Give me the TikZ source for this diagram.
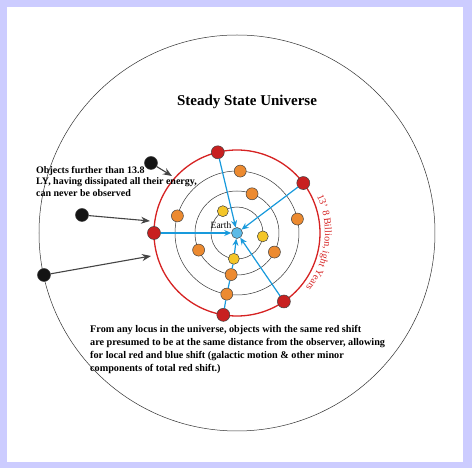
\documentclass[tikz,border=0pt]{standalone}
\usepackage{fontspec}
\setmainfont{Liberation Serif}
\usetikzlibrary{arrows.meta,positioning,decorations.text}
\definecolor{FrameLilac}{RGB}{204,204,255}
\definecolor{RingRed}{RGB}{214,34,34}
\definecolor{StarRed}{RGB}{200,32,32}
\definecolor{StarOrange}{RGB}{236,138,48}
\definecolor{StarYellow}{RGB}{244,198,40}
\definecolor{EarthBlue}{RGB}{92,186,230}
\definecolor{RayBlue}{RGB}{24,154,220}
\definecolor{ArrowGray}{RGB}{68,68,68}
\tikzset{
  body/.style={circle,draw=black!75,line width=0.5pt,inner sep=0pt},
  redstar/.style={body,fill=StarRed,minimum size=13pt},
  orangestar/.style={body,fill=StarOrange,minimum size=12pt},
  yellowstar/.style={body,fill=StarYellow,minimum size=11pt},
  lost/.style={body,fill=black!92,minimum size=13pt},
  ray/.style={RayBlue,line width=1.2pt},
  rayin/.style={ray,-{Stealth[length=7pt,width=6pt]}},
  lostarrow/.style={ArrowGray,line width=1.1pt,-{Stealth[length=9pt,width=7pt]}},
  ring/.style={black!80,line width=0.5pt}
}
\begin{document}
\begin{tikzpicture}[x=1pt,y=1pt,>=Latex]
  \useasboundingbox (-237,-235) rectangle (235,233);
  \fill[FrameLilac] (-237,-235) rectangle (235,233);
  \fill[white] (-230,-229) rectangle (226,226);

  % rings round the observer
  \draw[ring] (0,0) circle[radius=198];
  \foreach \r in {26,42,62} \draw[ring] (0,0) circle[radius=\r];
  \draw[RingRed,line width=1.3pt] (0,0) circle[radius=83];

  \node[font=\bfseries\fontsize{15}{17}\selectfont] (title) at (10,131) {Steady State Universe};

  \node[body,fill=EarthBlue,minimum size=11pt] (earth) at (0,0) {};
  \node[font=\fontsize{9.5}{10}\selectfont] (earthlabel) at (-16,8) {Earth};

  \node[yellowstar] (y1) at (123:26) {};
  \node[yellowstar] (y2) at (-7.5:26) {};
  \node[yellowstar] (y3) at (-97:26) {};
  \node[orangestar] (o1) at (69:42) {};
  \node[orangestar] (o2) at (204:42) {};
  \node[orangestar] (o3) at (-27:42) {};
  \node[orangestar] (o4) at (-98:42) {};
  \node[orangestar] (p1) at (87:62) {};
  \node[orangestar] (p2) at (164:62) {};
  \node[orangestar] (p3) at (13:62) {};
  \node[orangestar] (p4) at (-99.5:62) {};
  \node[redstar] (r1) at (103.4:83) {};
  \node[redstar] (r2) at (37:83) {};
  \node[redstar] (r3) at (180:83) {};
  \node[redstar] (r4) at (-55.6:83) {};
  \node[redstar] (r5) at (-99.5:83) {};

  \draw[rayin] (r1) -- (earth);
  \draw[rayin] (r2) -- (earth);
  \draw[rayin] (r3) -- (earth);
  \draw[rayin] (r4) -- (earth);
  \draw[ray] (r5) -- (p4);
  \draw[ray] (p4) -- (o4);
  \draw[ray] (o4) -- (y3);
  \draw[rayin] (y3) -- (earth);

  \path[decorate,decoration={text along path,text align=center,
      text={|\fontsize{10}{10}\selectfont\color{RingRed}|13' 8 Billion, ight Years}}]
    (30:88) arc[start angle=30,end angle=-44,radius=88];

  % objects beyond the horizon
  \node[lost] (b1) at (-86,70) {};
  \node[lost] (b2) at (-155,18) {};
  \node[lost] (b3) at (-193,-42) {};
  \coordinate (e1) at (-65,57);
  \coordinate (e2) at (-87,12);
  \coordinate (e3) at (-86,-23);
  \draw[lostarrow] (b1) -- (e1);
  \draw[lostarrow] (b2) -- (e2);
  \draw[lostarrow] (b3) -- (e3);

  \node[anchor=north west,align=left,inner sep=0pt,
        font=\bfseries\fontsize{10}{11.5}\selectfont] (farnote) at (-201,67)
    {Objects further than 13.8\\LY, having dissipated all their energy,\\can never be observed};
  \node[anchor=north west,align=left,inner sep=0pt,
        font=\bfseries\fontsize{10.2}{13}\selectfont] (locusnote) at (-147,-92)
    {From any locus in the universe, objects with the same red shift\\
     are presumed to be at the same distance from the observer, allowing\\
     for local red and blue shift (galactic motion \& other minor\\
     components of total red shift.)};
\end{tikzpicture}
\end{document}
